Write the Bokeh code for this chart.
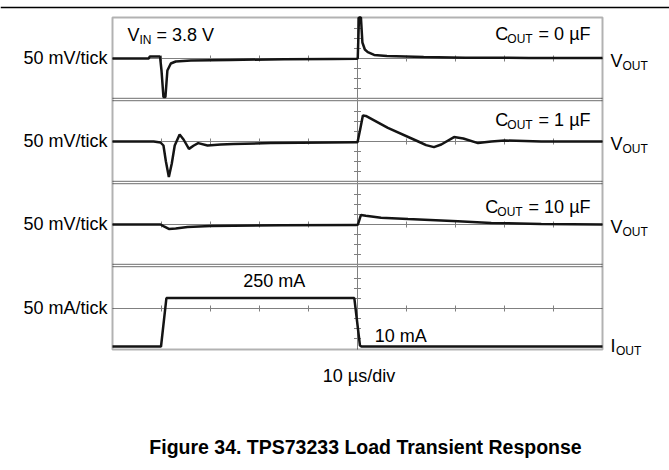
import math
from bokeh.plotting import figure
from bokeh.models import Range1d, Span, Label, BoxAnnotation
from bokeh.embed import file_html
from bokeh.resources import INLINE

# ---------------- data (time in µs, Vout deviation in mV, Iout in mA) ----------------
time_c0 = [-50, -42.6, -42.4, -40.3, -40.0, -39.6, -39.2, -38.8, -38.1, -37.1, -34.0, -26.0,
           -15.0, -5.0, -0.2, 0.05, 0.3, 0.7, 1.0, 1.5, 2.1, 3.4, 6.0, 13.5, 22.0, 35.0, 50.0]
vout_c0 = [0, 0, 10, 10, -60, -193, -193, -60, -25, -15, -10, -7,
           -4, -2, -1, 0, 205, 205, 80, 45, 32, 18, 12, 8, 4, 3, 2]

time_c1 = [-50, -41.6, -40.2, -39.6, -39.1, -38.5, -37.9, -37.3, -36.3, -35.5, -34.4, -33.4,
           -32.5, -30.6, -27.9, -25.3, -17.7, -11.6, -0.3, 0.0, 0.5, 1.1, 1.7, 6.2, 12.4,
           14.0, 15.6, 17.1, 19.7, 21.6, 24.6, 27.3, 30.0, 37.5, 50.0]
vout_c1 = [0, 0, -5, -20, -100, -178, -110, -20, 35, 10, -37, -20,
           -8, -20, -15, -12, -8, -6, -4, -4, 55, 130, 128, 68, 0,
           -18, -28, -15, 22, 15, -8, 0, 5, 0, 0]

time_c10 = [-50, -40.2, -39.6, -38.5, -37.1, -34.7, -30.0, -25.3, -15.6, -0.3, 0.1, 0.7,
            1.7, 4.8, 10.3, 20.5, 27.3, 37.5, 50.0]
vout_c10 = [0, 0, -8, -22, -20, -13, -8, -6, -4, -3, 0, 48,
            44, 34, 27, 16, 8, 2, 0]

time_iout = [-50, -40.1, -39.0, -20.0, -0.65, 0.5, 0.8, 50]
iout_ma = [10, 10, 252, 252, 252, 15, 10, 10]

x_div_ticks = [-40, -30, -20, -10, 10, 20, 30, 40]
v_tick_marks = [-150, -100, -50, 50, 100, 150]
i_tick_marks = [50, 100, 150, 250, 300, 350]

scale_labels = ["50 mV/tick", "50 mV/tick", "50 mV/tick", "50 mA/tick"]
cout_labels = ["0 µF", "1 µF", "10 µF"]

# ---------------- layout constants (page pixels) ----------------
W, H = 669, 470
PAGE_X0, PAGE_Y0 = 0, 0
SCOPE_L, SCOPE_R, SCOPE_T, SCOPE_B = 112, 602, 17, 349
T0, T1 = -50, 50
PX_PER_US = (SCOPE_R - SCOPE_L) / (T1 - T0)
UNIT_PER_PX = 5.0
baselines = [58, 141, 224, 308]
centers = [0, 0, 0, 200]
names = ["p0", "p1", "p2", "p3"]
TEXT_SHIFT = -5

FONT = "Liberation Sans"
TRACE = "#141414"
GRID = "#808080"
SEP = "#8a8a8a"
NBSP = "\u00a0"


def tx(px):
    return T0 + (px - SCOPE_L) / PX_PER_US


def ty(px, k):
    return centers[k] + (baselines[k] - px) * UNIT_PER_PX


p = figure(width=W, height=H,
           x_range=Range1d(tx(PAGE_X0), tx(PAGE_X0 + W)),
           y_range=Range1d(ty(PAGE_Y0 + H, 0), ty(PAGE_Y0, 0)),
           x_axis_location=None, y_axis_location=None,
           output_backend="svg", toolbar_location=None,
           min_border=0)
p.extra_y_ranges = {names[k]: Range1d(ty(PAGE_Y0 + H, k), ty(PAGE_Y0, k)) for k in range(4)}
p.grid.visible = False
p.outline_line_color = None
p.background_fill_color = "white"
p.border_fill_color = "white"

# top rule
p.add_layout(Span(location=ty(7, 0), dimension="width", y_range_name="p0",
                  line_color="black", line_width=1.6))

# grid: centre lines, separators, ticks
p.segment(x0=[0], y0=[ty(SCOPE_B, 0)], x1=[0], y1=[ty(SCOPE_T, 0)],
          line_color=GRID, line_width=1, y_range_name="p0")
for k in range(4):
    p.segment(x0=[T0], y0=[centers[k]], x1=[T1], y1=[centers[k]],
              line_color=GRID, line_width=1, y_range_name=names[k])
    p.scatter(x_div_ticks, [centers[k]] * len(x_div_ticks), marker="dash", angle=math.pi / 2,
              size=6, line_color=GRID, line_width=1, y_range_name=names[k])
    marks = v_tick_marks if k < 3 else i_tick_marks
    p.scatter([0] * len(marks), marks, marker="dash", size=7,
              line_color=GRID, line_width=1, y_range_name=names[k])
for k in range(3):
    for off in (199, 211):
        p.segment(x0=[T0], y0=[centers[k] - off], x1=[T1], y1=[centers[k] - off],
                  line_color=SEP, line_width=1.2, y_range_name=names[k])

# traces
p.line(time_c0, vout_c0, line_color=TRACE, line_width=2.5, y_range_name="p0")
p.line(time_c1, vout_c1, line_color=TRACE, line_width=2.5, y_range_name="p1")
p.line(time_c10, vout_c10, line_color=TRACE, line_width=2.5, y_range_name="p2")
p.line(time_iout, iout_ma, line_color=TRACE, line_width=2.5, y_range_name="p3")

# scope outline
p.add_layout(BoxAnnotation(left=T0, right=T1, top=ty(SCOPE_T, 0), bottom=ty(SCOPE_B, 0),
                           y_range_name="p0", fill_alpha=0, line_color="black",
                           line_width=2, level="overlay"))


def lab(text, px, py, k, size=18.0, align="left", bold=False):
    p.add_layout(Label(x=tx(px), y=ty(py + TEXT_SHIFT, k), text=text, y_range_name=names[k],
                       text_font=FONT, text_font_size=f"{size}px", text_align=align,
                       text_baseline="alphabetic", text_color="black",
                       text_font_style="bold" if bold else "normal"))


# left scale labels
for k in range(4):
    lab(scale_labels[k], 107, baselines[k] + 4.5, k, align="right")

# right channel labels
for k in range(3):
    lab("V", 610, baselines[k] + 7, k)
    lab("OUT", 622, baselines[k] + 12, k, size=12)
lab("I", 610, 350, 3)
lab("OUT", 615.5, 355, 3, size=12)

# VIN label
lab("V", 127, 39.5, 0)
lab("IN", 139, 44.5, 0, size=12)
lab(NBSP + "= 3.8 V", 151, 39.5, 0)

# COUT labels (right aligned near 590)
cout_base = [38.5, 124, 211.5]
for k in range(3):
    rest = NBSP + "= " + cout_labels[k]
    rest_w = 56.9 + (10 if k == 2 else 0)
    left = 590 - (13 + 25.3 + rest_w)
    lab("C", left, cout_base[k], k)
    lab("OUT", left + 12, cout_base[k] + 5, k, size=12)
    lab(rest, left + 13 + 25.3, cout_base[k], k)

# current level labels
lab("250 mA", 242.7, 285, 3)
lab("10 mA", 374.3, 340, 3)

# time base and caption
lab("10 µs/div", 358.5, 380, 3, align="center")
lab("Figure 34. TPS73233 Load Transient Response", 365, 451, 3, size=19.5, align="center", bold=True)

open("out.html", "w").write(file_html(p, INLINE))
